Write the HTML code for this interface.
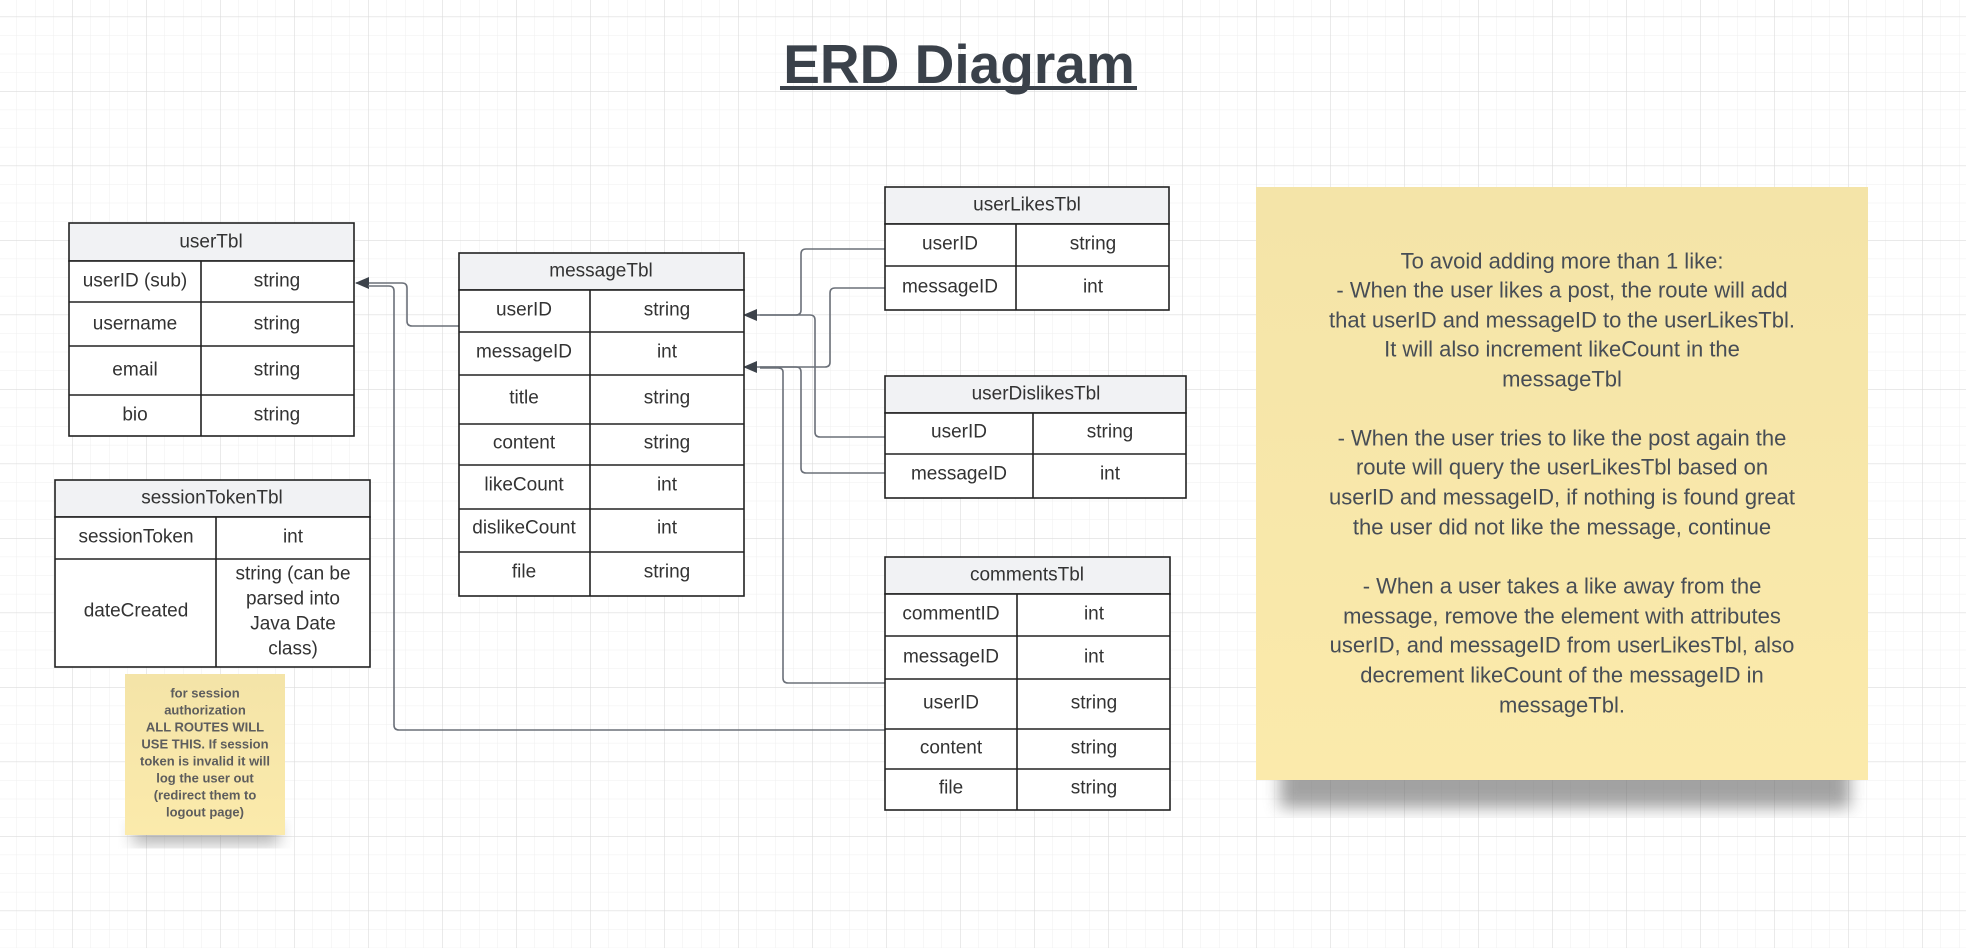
<!DOCTYPE html>
<html><head><meta charset="utf-8"><style>
html,body{margin:0;padding:0;width:1966px;height:948px;overflow:hidden;background:#fff}
svg{display:block}
text{font-family:"Liberation Sans",Arial,sans-serif}
</style></head><body>
<svg width="1966" height="948" viewBox="0 0 1966 948" xmlns="http://www.w3.org/2000/svg">
<defs>
<pattern id="minor" x="812" y="538" width="18.5" height="18.625" patternUnits="userSpaceOnUse">
<path d="M0 0V18.625M0 0H18.5" stroke="#efefef" stroke-width="1" fill="none"/>
</pattern>
<pattern id="major" x="812" y="538" width="74" height="74.5" patternUnits="userSpaceOnUse">
<path d="M0 0V74.5M0 0H74" stroke="#dcdcdc" stroke-width="1.2" fill="none"/>
</pattern>
<linearGradient id="sticky" x1="0" y1="0" x2="0" y2="1">
<stop offset="0" stop-color="#f4e4a8"/><stop offset="1" stop-color="#fbeaab"/>
</linearGradient>
<filter id="sh" x="-10%" y="-10%" width="120%" height="130%"><feGaussianBlur stdDeviation="8"/></filter>
<marker id="ar" viewBox="0 0 14 12" refX="13" refY="6" markerWidth="14" markerHeight="12" markerUnits="userSpaceOnUse" orient="auto">
<path d="M0 0L14 6L0 12Z" fill="#3d434b"/></marker>
</defs>
<rect width="1966" height="948" fill="url(#minor)"/>
<rect width="1966" height="948" fill="url(#major)"/>

<text x="959" y="83" font-size="55" font-weight="bold" fill="#3a414a" text-anchor="middle">ERD Diagram</text>
<rect x="780" y="86" width="357" height="4" fill="#3a414a"/>

<g fill="none" stroke="#6b7079" stroke-width="1.6">
<path d="M459 326H412Q407 326 407 321V288Q407 283 402 283H356" marker-end="url(#ar)"/>
<path d="M885 730H399Q394 730 394 725V291Q394 286 389 286H368"/>
<path d="M885 249H806Q801 249 801 254V310Q801 315 796 315H744" marker-end="url(#ar)"/>
<path d="M885 437H820Q815 437 815 432V320Q815 315 810 315H760"/>
<path d="M885 288H835Q830 288 830 293V362Q830 367 825 367H744" marker-end="url(#ar)"/>
<path d="M885 473H806Q801 473 801 468V372Q801 367 796 367H760"/>
<path d="M885 683H788Q783 683 783 678V372Q783 368 778 368H760"/>
</g>

<g stroke="#222" stroke-width="1.6" font-size="19" fill="#333" text-anchor="middle" dominant-baseline="central">
<rect x="69" y="223" width="285" height="38" fill="#f1f2f4"/>
<rect x="69" y="261" width="285" height="175" fill="#fff"/>
<path d="M69 302H354M69 346H354M69 395H354M201 261V436" fill="none"/>
<g stroke="none">
<text x="211" y="242">userTbl</text>
<text x="135" y="281">userID (sub)</text><text x="277" y="281">string</text>
<text x="135" y="324">username</text><text x="277" y="324">string</text>
<text x="135" y="370">email</text><text x="277" y="370">string</text>
<text x="135" y="415">bio</text><text x="277" y="415">string</text>
</g>
<rect x="459" y="253" width="285" height="37" fill="#f1f2f4"/>
<rect x="459" y="290" width="285" height="306" fill="#fff"/>
<path d="M459 332H744M459 375H744M459 424H744M459 465H744M459 509H744M459 552H744M590 290V596" fill="none"/>
<g stroke="none">
<text x="601" y="271">messageTbl</text>
<text x="524" y="310">userID</text><text x="667" y="310">string</text>
<text x="524" y="352">messageID</text><text x="667" y="352">int</text>
<text x="524" y="398">title</text><text x="667" y="398">string</text>
<text x="524" y="443">content</text><text x="667" y="443">string</text>
<text x="524" y="485">likeCount</text><text x="667" y="485">int</text>
<text x="524" y="528">dislikeCount</text><text x="667" y="528">int</text>
<text x="524" y="572">file</text><text x="667" y="572">string</text>
</g>
<rect x="55" y="480" width="315" height="37" fill="#f1f2f4"/>
<rect x="55" y="517" width="315" height="150" fill="#fff"/>
<path d="M55 559H370M216 517V667" fill="none"/>
<g stroke="none">
<text x="212" y="498">sessionTokenTbl</text>
<text x="136" y="537">sessionToken</text><text x="293" y="537">int</text>
<text x="136" y="611">dateCreated</text>
<text x="293" y="574">string (can be</text><text x="293" y="599">parsed into</text>
<text x="293" y="624">Java Date</text><text x="293" y="649">class)</text>
</g>
<rect x="885" y="187" width="284" height="37" fill="#f1f2f4"/>
<rect x="885" y="224" width="284" height="86" fill="#fff"/>
<path d="M885 266H1169M1016 224V310" fill="none"/>
<g stroke="none">
<text x="1027" y="205">userLikesTbl</text>
<text x="950" y="244">userID</text><text x="1093" y="244">string</text>
<text x="950" y="287">messageID</text><text x="1093" y="287">int</text>
</g>
<rect x="885" y="376" width="301" height="37" fill="#f1f2f4"/>
<rect x="885" y="413" width="301" height="85" fill="#fff"/>
<path d="M885 454H1186M1033 413V498" fill="none"/>
<g stroke="none">
<text x="1036" y="394">userDislikesTbl</text>
<text x="959" y="432">userID</text><text x="1110" y="432">string</text>
<text x="959" y="474">messageID</text><text x="1110" y="474">int</text>
</g>
<rect x="885" y="557" width="285" height="37" fill="#f1f2f4"/>
<rect x="885" y="594" width="285" height="216" fill="#fff"/>
<path d="M885 636H1170M885 679H1170M885 729H1170M885 769H1170M1017 594V810" fill="none"/>
<g stroke="none">
<text x="1027" y="575">commentsTbl</text>
<text x="951" y="614">commentID</text><text x="1094" y="614">int</text>
<text x="951" y="657">messageID</text><text x="1094" y="657">int</text>
<text x="951" y="703">userID</text><text x="1094" y="703">string</text>
<text x="951" y="748">content</text><text x="1094" y="748">string</text>
<text x="951" y="788">file</text><text x="1094" y="788">string</text>
</g>
</g>

<rect x="133" y="822" width="146" height="22" fill="#777" opacity="0.55" filter="url(#sh)"/>
<rect x="125" y="674" width="160" height="161" fill="url(#sticky)"/>
<g font-size="13" font-weight="bold" fill="#5d5d5d" text-anchor="middle" dominant-baseline="central">
<text x="205" y="693">for session</text>
<text x="205" y="710">authorization</text>
<text x="205" y="727">ALL ROUTES WILL</text>
<text x="205" y="744">USE THIS. If session</text>
<text x="205" y="761">token is invalid it will</text>
<text x="205" y="778">log the user out</text>
<text x="205" y="795">(redirect them to</text>
<text x="205" y="812">logout page)</text>
</g>

<rect x="1280" y="762" width="570" height="46" fill="#666" opacity="0.6" filter="url(#sh)"/>
<rect x="1256" y="187" width="612" height="593" fill="url(#sticky)"/>
<g font-size="22" fill="#474d55" text-anchor="middle" dominant-baseline="central">
<text x="1562" y="261">To avoid adding more than 1 like:</text>
<text x="1562" y="290">- When the user likes a post, the route will add</text>
<text x="1562" y="320">that userID and messageID to the userLikesTbl.</text>
<text x="1562" y="349">It will also increment likeCount in the</text>
<text x="1562" y="379">messageTbl</text>
<text x="1562" y="438">- When the user tries to like the post again the</text>
<text x="1562" y="467">route will query the userLikesTbl based on</text>
<text x="1562" y="497">userID and messageID, if nothing is found great</text>
<text x="1562" y="527">the user did not like the message, continue</text>
<text x="1562" y="586">- When a user takes a like away from the</text>
<text x="1562" y="616">message, remove the element with attributes</text>
<text x="1562" y="645">userID, and messageID from userLikesTbl, also</text>
<text x="1562" y="675">decrement likeCount of the messageID in</text>
<text x="1562" y="705">messageTbl.</text>
</g>
</svg>
</body></html>
